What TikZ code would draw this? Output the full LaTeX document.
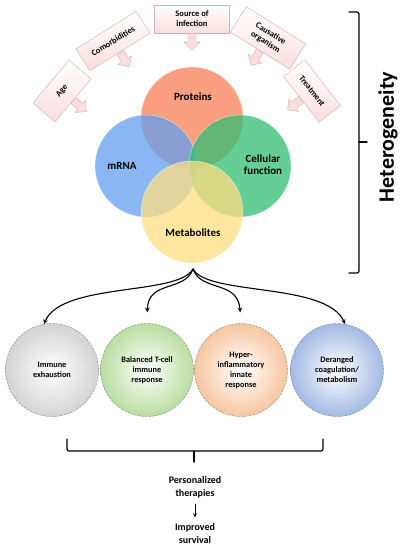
\documentclass[tikz,border=0pt]{standalone}
\usepackage{fontspec}
\setmainfont{Carlito}
\usepackage{tikz}
\usetikzlibrary{positioning}
\usetikzlibrary{arrows}
\usetikzlibrary{shapes.arrows}
\definecolor{protc}{RGB}{250,128,88}
\definecolor{mrnac}{RGB}{100,160,240}
\definecolor{cellc}{RGB}{50,190,115}
\definecolor{metac}{RGB}{255,222,130}
\definecolor{pinkc}{RGB}{250,222,222}
\definecolor{pinkd}{RGB}{215,175,175}
\definecolor{greyc}{RGB}{212,212,212}
\definecolor{greenc}{RGB}{185,222,160}
\definecolor{orangec}{RGB}{248,198,160}
\definecolor{bluec}{RGB}{162,186,228}
\begin{document}
\begin{tikzpicture}[x=1pt,y=-1pt,line cap=round,line join=round,>=stealth,
	factor/.style={draw=pinkd,top color=white,bottom color=pinkc,align=center,inner sep=1pt,font=\fontsize{8.5}{10}\selectfont\bfseries},
	fatarrow/.style={single arrow,draw=pinkd,fill=pinkc,minimum height=17pt,minimum width=16pt,inner sep=3.75pt,single arrow head extend=4pt,anchor=tail},
	venn/.style={circle,minimum size=102pt,inner sep=0pt,fill opacity=0.75,draw=white,draw opacity=0.6},
	vennlbl/.style={align=center,font=\fontsize{11}{12}\selectfont\bfseries},
	outcome/.style={circle,minimum size=93pt,inner sep=0pt,draw=gray,dash pattern=on 2pt off 1.5pt,inner color=white,align=center,font=\fontsize{8.3}{10}\selectfont\bfseries},
	result/.style={align=center,font=\fontsize{10}{13}\selectfont\bfseries}]
	\useasboundingbox[fill=white] (0,0) rectangle (400,550);
	\node[factor,rotate=50,minimum width=56pt,minimum height=29pt] (age) at (62,91) {Age};
	\node[factor,rotate=32,minimum width=71pt,minimum height=26pt] (comorb) at (113,41) {Comorbidities};
	\node[factor,minimum width=75pt,minimum height=28pt] (source) at (192,19) {Source of\\infection};
	\node[factor,rotate=-32,minimum width=70pt,minimum height=30pt] (cause) at (268,38) {Causative\\organism};
	\node[factor,rotate=-52,minimum width=58pt,minimum height=27pt] (treat) at (312,91) {Treatment};
	\node[fatarrow,rotate=-40] (agearr) at (age.south) {};
	\node[fatarrow,rotate=-58] (comorbarr) at (comorb.south) {};
	\node[fatarrow,rotate=-90] (sourcearr) at (source.south) {};
	\node[fatarrow,rotate=-122] (causearr) at (cause.south) {};
	\node[fatarrow,rotate=-142] (treatarr) at (treat.south) {};
	\node[venn,fill=protc] (prot) at (192,118) {};
	\node[venn,fill=mrnac] (mrna) at (146,166) {};
	\node[venn,fill=cellc] (cell) at (240,166) {};
	\node[venn,fill=metac] (meta) at (192,212) {};
	\node[vennlbl] (protlbl) at (193,97) {Proteins};
	\node[vennlbl] (mrnalbl) at (122,166) {mRNA};
	\node[vennlbl] (celllbl) at (263,165) {Cellular\\function};
	\node[vennlbl] (metalbl) at (193,233) {Metabolites};
	\draw[line width=1.2pt,rounded corners=2pt] (349,12) -- (359,12) -- (359,273) -- (349,273);
	\draw[line width=1.2pt] (359,142) -- (367,142);
	\node[rotate=90,font=\fontsize{22}{24}\selectfont\bfseries] (hetero) at (388,137) {Heterogeneity};
	\node[outcome,outer color=greyc] (exhaust) at (52,370) {Immune\\exhaustion};
	\node[outcome,outer color=greenc] (tcell) at (147,370) {Balanced T-cell\\immune\\response};
	\node[outcome,outer color=orangec] (hyper) at (241,370) {Hyper-\\inflammatory\\innate\\response};
	\node[outcome,outer color=bluec] (derange) at (337,370) {Deranged\\coagulation/\\metabolism};
	\coordinate (fork) at (193,269);
	\draw[->,line width=1.1pt] (fork) .. controls (178,296) and (62,282) .. (exhaust.100);
	\draw[->,line width=1.1pt,shorten >=11pt] (fork) .. controls (185,292) and (148,280) .. (tcell.north);
	\draw[->,line width=1.1pt,shorten >=11pt] (fork) .. controls (201,292) and (238,280) .. (hyper.north);
	\draw[->,line width=1.1pt] (fork) .. controls (208,296) and (326,282) .. (derange.80);
	\draw[line width=1.2pt,rounded corners=2pt] (67,439) -- (67,451) -- (323,451) -- (323,439);
	\draw[line width=1.2pt] (194,451) -- (194,462);
	\node[result] (personal) at (195,487) {Personalized\\therapies};
	\node[result] (survival) at (195,534) {Improved\\survival};
	\draw[->,line width=0.9pt,shorten <=3pt,shorten >=3pt] (personal) -- (survival);
\end{tikzpicture}
\end{document}
